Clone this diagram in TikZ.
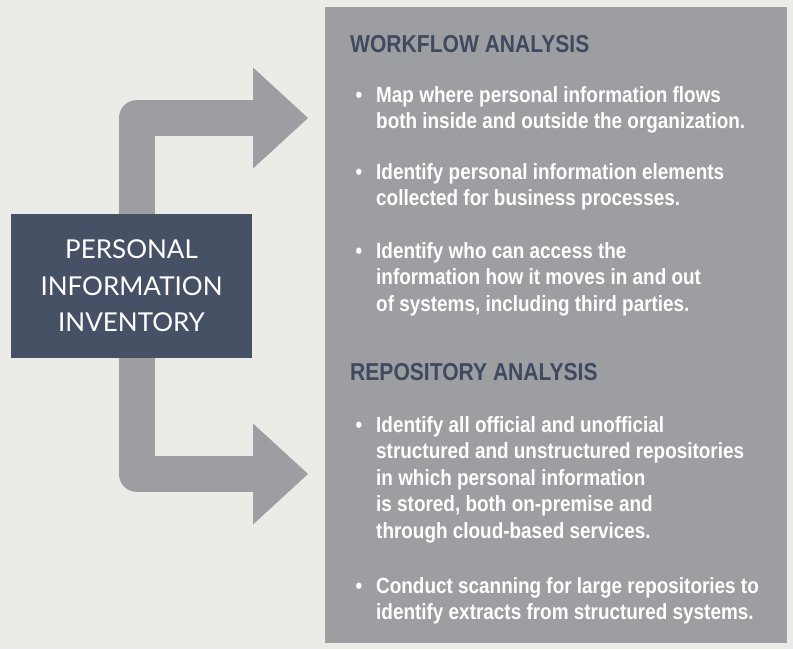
\documentclass[tikz,border=0pt]{standalone}
\usepackage{fontspec}
\setmainfont{Liberation Sans}[FakeStretch=0.86]
\newfontfamily\boxfont{Lato}
\usepackage{tikz}
\usetikzlibrary{arrows.meta}
\usetikzlibrary{positioning}
\usetikzlibrary{calc}
\definecolor{pagebg}{HTML}{EBEBE7}
\definecolor{panelgray}{HTML}{9D9EA2}
\definecolor{slate}{HTML}{475166}
\definecolor{headslate}{HTML}{3F4A5F}
\tikzstyle{invbox}=[fill=slate,text=white,minimum width=241pt,minimum height=144pt,inner sep=0pt,align=center,font=\boxfont\fontsize{26}{36.5}\selectfont]
\tikzstyle{panelbox}=[fill=panelgray,minimum width=462pt,minimum height=636pt,inner sep=0pt]
\tikzstyle{flow}=[draw=panelgray,line width=36pt,line join=round,-{Triangle[length=55pt,width=101pt,line width=0pt]}]
\tikzstyle{head}=[anchor=base west,inner sep=0pt,text=headslate,font=\bfseries\fontsize{24.5}{28}\selectfont]
\tikzstyle{item}=[anchor=base west,inner sep=0pt,text=white,font=\bfseries\fontsize{22}{26.6}\selectfont]
\newcommand{\bul}{\noindent\llap{\textbullet\hspace{14pt}}}

\begin{document}
\begin{tikzpicture}[x=1pt,y=-1pt]
\fill[pagebg] (0,0) rectangle (793,649);
\useasboundingbox (0,0) rectangle (793,649);
\node [panelbox] (panel) at (556,325) {};
\node [invbox] (inv) at (131.5,286) {PERSONAL\\INFORMATION\\INVENTORY};
\coordinate (wftip) at (308,118);
\coordinate (rptip) at (308,474);
\draw [flow] ([xshift=5.5pt]inv.north) |- (wftip);
\draw [flow] ([xshift=5.5pt]inv.south) |- (rptip);
% workflow side
\node [head] (wfhead) at (350,52) {WORKFLOW ANALYSIS};
\node [item] (wf1) at (376,102) {\parbox[t]{400pt}{\bul Map where personal information flows\\both inside and outside the organization.}};
\node [item] (wf2) at (376,179) {\parbox[t]{400pt}{\bul Identify personal information elements\\collected for business processes.}};
\node [item] (wf3) at (376,258) {\parbox[t]{400pt}{\bul Identify who can access the\\information how it moves in and out\\of systems, including third parties.}};
% repository side
\node [head] (rphead) at (350,380) {REPOSITORY ANALYSIS};
\node [item] (rp1) at (376,432) {\parbox[t]{400pt}{\bul Identify all official and unofficial\\structured and unstructured repositories\\in which personal information\\is stored, both on-premise and\\through cloud-based services.}};
\node [item] (rp2) at (376,593) {\parbox[t]{400pt}{\bul Conduct scanning for large repositories to\\identify extracts from structured systems.}};
\end{tikzpicture}
\end{document}
